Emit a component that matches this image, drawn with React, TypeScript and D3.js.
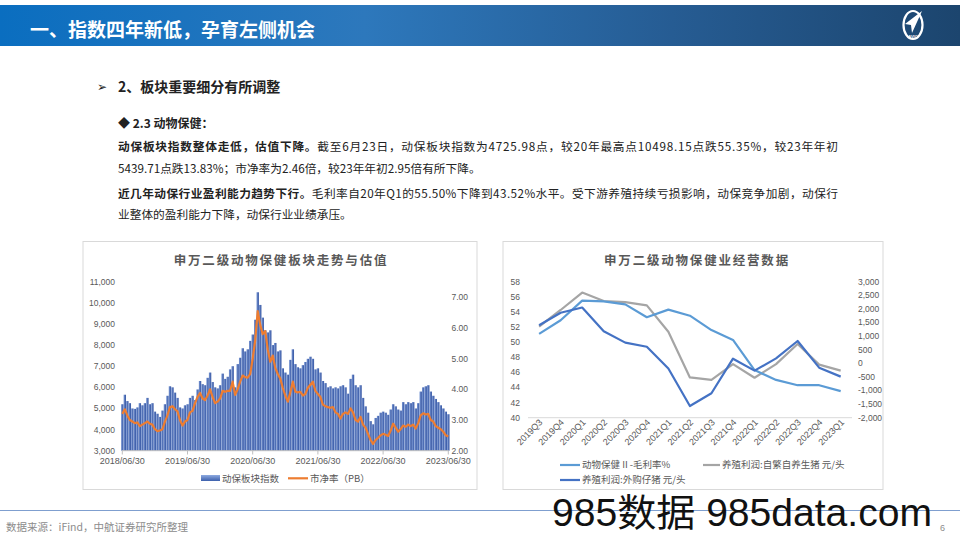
import React from 'react';
import * as d3 from 'd3';

// ---- Left chart: 申万二级动物保健板块走势与估值 (biweekly, 2018/06/30 – 2023/06/30)
const indexValues = [
  5200, 5650, 5350, 5250, 5000, 4980, 5050, 5250, 5150, 5250,
  5500, 5200, 5250, 4850, 4750, 4600, 4900, 5200, 5600, 6050,
  6000, 5750, 5500, 5050, 5000, 5150, 5200, 5500, 5600, 5400,
  5900, 6300, 6150, 6100, 6450, 6700, 6250, 6000, 5950, 6100,
  6650, 6400, 6500, 6850, 7000, 6000, 7100, 7400, 7850, 7700,
  7800, 8200, 8500, 9200, 10500, 9900, 9300, 8700, 8600, 8700,
  8000, 8100, 7700, 7750, 6900, 6700, 6600, 7300, 7800, 7100,
  6950, 6900, 7050, 7200, 7350, 7450, 7350, 6850, 6900, 6700,
  6300, 6200, 6000, 6050, 5950, 6000, 5950, 6050, 6100, 6000,
  5700, 6400, 6600, 6100, 6000, 6100, 5500, 5100, 4800, 4400,
  4250, 4550, 4650, 4800, 4850, 4800, 4700, 4950, 5200, 5100,
  4950, 4900, 5300, 5200, 5300, 5250, 5300, 5000, 5250, 5800,
  6000, 6050, 6100, 5800, 5600, 5450, 5300, 5150, 5000, 4850,
  4726,
];
const pbValues = [
  3.2, 3.35, 3.15, 3.0, 2.95, 2.9, 2.92, 2.8, 2.85, 2.9,
  2.95, 2.88, 2.85, 2.7, 2.64, 2.66, 2.7, 2.95, 3.15, 3.42,
  3.45, 3.35, 3.28, 3.0, 2.82, 2.95, 3.0, 3.25, 3.3, 3.55,
  3.75, 3.88, 3.7, 3.65, 3.8, 4.0, 3.75, 3.55, 3.6, 3.7,
  3.95, 3.92, 3.95, 3.95, 4.25, 3.82, 4.0, 4.25, 4.45, 4.4,
  4.38, 4.5, 5.0, 5.6, 6.55, 6.1, 5.8, 5.9, 5.3, 4.9,
  5.1, 4.7, 4.5, 4.35, 4.05, 3.8, 3.6, 3.9, 4.25, 3.92,
  3.9, 3.92, 3.8, 3.85, 4.05, 4.15, 4.25, 3.95, 3.85, 3.75,
  3.5, 3.45, 3.42, 3.4, 3.42, 3.25, 3.2, 3.05, 3.2, 3.25,
  3.2, 3.38, 3.25, 3.0, 2.95, 3.1, 2.85, 2.75, 2.55, 2.35,
  2.22, 2.35, 2.42, 2.5, 2.55, 2.52, 2.48, 2.65, 2.88, 2.75,
  2.62, 2.7, 2.82, 2.78, 2.85, 2.8, 2.85, 2.72, 2.9, 3.15,
  3.22, 3.18, 3.2, 3.0, 2.95, 2.8, 2.75, 2.7, 2.62, 2.5,
  2.46,
];
const dateLabels = ['2018/06/30', '2019/06/30', '2020/06/30', '2021/06/30', '2022/06/30', '2023/06/30'];
const dateLabelIdx = [0, 26, 52, 78, 104, 130];
const indexTicks = [3000, 4000, 5000, 6000, 7000, 8000, 9000, 10000, 11000];
const pbTicks = [2, 3, 4, 5, 6, 7];

// ---- Right chart: 申万二级动物保健业经营数据
const quarters = ['2019Q3', '2019Q4', '2020Q1', '2020Q2', '2020Q3', '2020Q4', '2021Q1', '2021Q2', '2021Q3', '2021Q4', '2022Q1', '2022Q2', '2022Q3', '2022Q4', '2023Q1'];
const grossMargin = [51.1, 52.9, 55.5, 55.4, 55.0, 53.3, 54.3, 53.5, 51.6, 50.3, 46.3, 45.0, 44.3, 44.3, 43.52];
const profitSelf = [1350, 1960, 2600, 2290, 2250, 2130, 1160, -520, -610, -30, -530, -30, 710, -50, -270];
const profitBuy = [1400, 1860, 2050, 1180, 760, 610, -190, -1570, -1100, 170, -270, 180, 820, -160, -490];
const marginTicks = [40, 42, 44, 46, 48, 50, 52, 54, 56, 58];
const profitTicks = [-2000, -1500, -1000, -500, 0, 500, 1000, 1500, 2000, 2500, 3000];

const CJK = '"Noto Sans CJK SC", "Microsoft YaHei", sans-serif';
const NUM = '"Liberation Sans", Arial, sans-serif';
const AXIS = '#595959';

export default function App() {
  // left chart scales
  const xL = d3.scaleLinear().domain([0, indexValues.length - 1]).range([122.3, 448.3]);
  const yIdx = d3.scaleLinear().domain([3000, 11000]).range([450.7, 281.7]);
  const yPb = d3.scaleLinear().domain([2, 7]).range([450.7, 297.3]);
  const pbLine = d3.line<number>().x((_, i) => xL(i)).y((d) => yPb(d));

  // right chart scales
  const xQ = d3.scalePoint<string>().domain(quarters).range([539.1, 840.7]);
  const yM = d3.scaleLinear().domain([40, 58]).range([417.7, 281.7]);
  const yP = d3.scaleLinear().domain([-2000, 3000]).range([417.7, 281.7]);
  const mLine = d3.line<number>().x((_, i) => xQ(quarters[i]) as number).y((d) => yM(d));
  const pLine = d3.line<number>().x((_, i) => xQ(quarters[i]) as number).y((d) => yP(d));

  const barW = 2.4;

  return (
    <svg width={960} height={540} style={{ position: 'absolute', left: 0, top: 0, background: '#fff' }}>
      <defs>
        <linearGradient id="hdr" x1="0" x2="1" y1="0" y2="0">
          <stop offset="0%" stopColor="#0a6ec0" />
          <stop offset="38%" stopColor="#2d78bc" />
          <stop offset="70%" stopColor="#265c93" />
          <stop offset="100%" stopColor="#1c456e" />
        </linearGradient>
        <linearGradient id="bar" x1="0" x2="1" y1="0" y2="0">
          <stop offset="0%" stopColor="#7a98d4" />
          <stop offset="100%" stopColor="#3252a0" />
        </linearGradient>
        <linearGradient id="barLeg" x1="0" x2="0" y1="0" y2="1">
          <stop offset="0%" stopColor="#8eaae0" />
          <stop offset="100%" stopColor="#3d60ac" />
        </linearGradient>
      </defs>

      {/* Header */}
      <rect x={0} y={5} width={960} height={41} fill="url(#hdr)" />
      <text x={30} y={37} fill="#fff" fontFamily={CJK} fontWeight={700} fontSize={19}>一、指数四年新低，孕育左侧机会</text>
      <g>
        <ellipse cx={913} cy={25} rx={9.5} ry={14} fill="none" stroke="#fff" strokeWidth={2.2} />
        <path d="M 922 11 L 905 24 L 911 25 L 912 33 Z" fill="#fff" />
        <text x={913} y={38} fill="#fff" fontFamily={NUM} fontSize={4} textAnchor="middle" fontWeight={700}>AVIC</text>
      </g>

      {/* Text block */}
      <text x={97} y={91} fontFamily={CJK} fontSize={12} fill="#222">➢</text>
      <text x={118} y={91.5} fontFamily={CJK} fontSize={14} fontWeight={700} fill="#222">2、板块重要细分有所调整</text>
      <text x={118} y={127.5} fontFamily={CJK} fontSize={12} fontWeight={700} fill="#222">◆ 2.3 动物保健：</text>
      <text x={118} y={151} fontFamily={CJK} fontSize={11.7} fill="#222" textLength={720} lengthAdjust="spacing">
        <tspan fontWeight={700}>动保板块指数整体走低，估值下降。</tspan>截至6月23日，动保板块指数为4725.98点，较20年最高点10498.15点跌55.35%，较23年年初
      </text>
      <text x={118} y={172.5} fontFamily={CJK} fontSize={11.7} fill="#222">5439.71点跌13.83%；市净率为2.46倍，较23年年初2.95倍有所下降。</text>
      <text x={118} y={197.5} fontFamily={CJK} fontSize={11.7} fill="#222" textLength={720} lengthAdjust="spacing">
        <tspan fontWeight={700}>近几年动保行业盈利能力趋势下行。</tspan>毛利率自20年Q1的55.50%下降到43.52%水平。受下游养殖持续亏损影响，动保竞争加剧，动保行
      </text>
      <text x={118} y={218.5} fontFamily={CJK} fontSize={11.7} fill="#222">业整体的盈利能力下降，动保行业业绩承压。</text>

      {/* Left chart panel */}
      <rect x={83} y={241.5} width={394} height={248} fill="#fff" stroke="#d9d9d9" strokeWidth={1} />
      <text x={281} y={265} textAnchor="middle" fontFamily={CJK} fontWeight={700} fontSize={12.5} letterSpacing={1.8} fill={AXIS}>申万二级动物保健板块走势与估值</text>
      {indexValues.map((v, i) => (
        <rect key={i} x={xL(i) - barW / 2} y={yIdx(v)} width={barW} height={yIdx(3000) - yIdx(v)} fill="url(#bar)" />
      ))}
      <line x1={122} x2={448.5} y1={450.7} y2={450.7} stroke="#bfbfbf" />
      {dateLabelIdx.map((idx, k) => (
        <g key={k}>
          <line x1={xL(idx)} x2={xL(idx)} y1={450.7} y2={454.5} stroke="#bfbfbf" />
          <text x={xL(idx)} y={464} textAnchor="middle" fontFamily={NUM} fontSize={9} fill={AXIS}>{dateLabels[k]}</text>
        </g>
      ))}
      <path d={pbLine(pbValues) || ''} fill="none" stroke="#ed7d31" strokeWidth={2.2} strokeLinejoin="round" />
      {indexTicks.map((t) => (
        <text key={t} x={115} y={yIdx(t)} dy="0.35em" textAnchor="end" fontFamily={NUM} fontSize={8.5} fill={AXIS}>{t.toLocaleString('en-US')}</text>
      ))}
      {pbTicks.map((t) => (
        <text key={t} x={451.5} y={yPb(t)} dy="0.35em" textAnchor="start" fontFamily={NUM} fontSize={8.5} fill={AXIS}>{t.toFixed(2)}</text>
      ))}
      <rect x={201} y={475} width={19} height={6} fill="url(#barLeg)" />
      <text x={222} y={481.5} fontFamily={CJK} fontSize={9.5} fill={AXIS}>动保板块指数</text>
      <line x1={288} x2={308} y1={478.3} y2={478.3} stroke="#ed7d31" strokeWidth={2.2} />
      <text x={310} y={481.5} fontFamily={CJK} fontSize={9.5} fill={AXIS}>市净率（PB）</text>

      {/* Right chart panel */}
      <rect x={503} y={241.5} width={380} height={248} fill="#fff" stroke="#d9d9d9" strokeWidth={1} />
      <text x={697} y={265} textAnchor="middle" fontFamily={CJK} fontWeight={700} fontSize={12.5} letterSpacing={1.8} fill={AXIS}>申万二级动物保健业经营数据</text>
      <line x1={528} x2={852} y1={417.7} y2={417.7} stroke="#d9d9d9" />
      {marginTicks.map((t) => (
        <text key={t} x={520} y={yM(t)} dy="0.35em" textAnchor="end" fontFamily={NUM} fontSize={8.5} fill={AXIS}>{t}</text>
      ))}
      {profitTicks.map((t) => (
        <text key={t} x={858} y={yP(t)} dy="0.35em" textAnchor="start" fontFamily={NUM} fontSize={8.5} fill={AXIS}>{t.toLocaleString('en-US')}</text>
      ))}
      {quarters.map((q) => (
        <text key={q} transform={`translate(${(xQ(q) as number) + 4},${423}) rotate(-45)`} textAnchor="end" fontFamily={NUM} fontSize={9} fill={AXIS}>{q}</text>
      ))}
      <path d={pLine(profitSelf) || ''} fill="none" stroke="#a5a5a5" strokeWidth={2.2} strokeLinejoin="round" />
      <path d={mLine(grossMargin) || ''} fill="none" stroke="#5b9bd5" strokeWidth={2.2} strokeLinejoin="round" />
      <path d={pLine(profitBuy) || ''} fill="none" stroke="#4472c4" strokeWidth={2.2} strokeLinejoin="round" />
      <line x1={560} x2={580} y1={465} y2={465} stroke="#5b9bd5" strokeWidth={2.2} />
      <text x={582} y={468.3} fontFamily={CJK} fontSize={9.5} fill={AXIS}>动物保健 II -毛利率%</text>
      <line x1={703} x2={720} y1={465} y2={465} stroke="#a5a5a5" strokeWidth={2.2} />
      <text x={722} y={468.3} fontFamily={CJK} fontSize={9.5} fill={AXIS}>养殖利润:自繁自养生猪 元/头</text>
      <line x1={560} x2={580} y1={480} y2={480} stroke="#4472c4" strokeWidth={2.2} />
      <text x={582} y={483.3} fontFamily={CJK} fontSize={9.5} fill={AXIS}>养殖利润:外购仔猪 元/头</text>

      {/* Footer */}
      <line x1={0} x2={960} y1={510.5} y2={510.5} stroke="#7f9fcf" strokeWidth={1} />
      <text x={6} y={531} fontFamily={CJK} fontSize={10.5} fill="#8c8c8c">数据来源：iFind，中航证券研究所整理</text>
      <text x={940} y={531} fontFamily={NUM} fontSize={9} fill="#8c8c8c">6</text>
      <text x={552} y={526} fontFamily={'"Liberation Sans", Arial, "Noto Sans CJK SC", sans-serif'} fontSize={38} fill="#111" textLength={380} lengthAdjust="spacingAndGlyphs">985数据 985data.com</text>
    </svg>
  );
}
